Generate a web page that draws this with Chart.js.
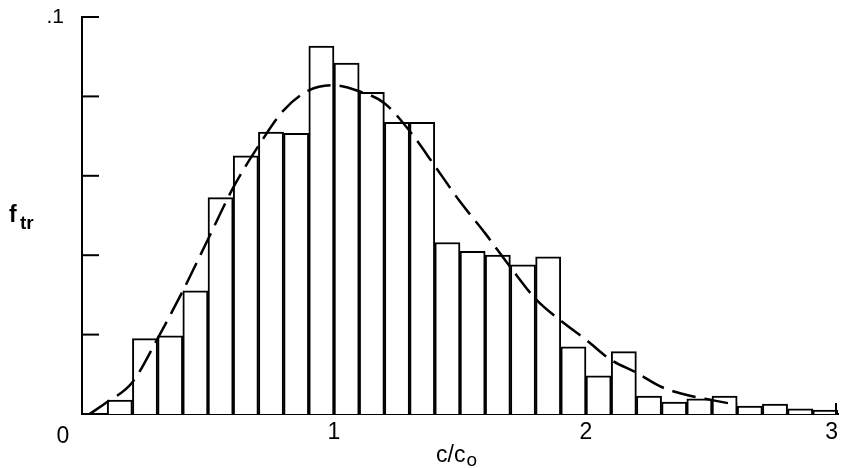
<!DOCTYPE html>
<html>
<head>
<meta charset="utf-8">
<script src="https://cdn.jsdelivr.net/npm/chart.js@4/dist/chart.umd.min.js"></script>
<style>
  html, body { margin: 0; padding: 0; background: #fff; }
  #wrap { width: 842px; height: 468px; }
</style>
</head>
<body>
<div id="wrap"><canvas id="chHist"></canvas></div>
<script>
// histogram bins (centre of each 0.1 wide bin) and frequencies
var binCentres = [0.05, 0.15, 0.25, 0.35, 0.45, 0.55, 0.65, 0.75, 0.85, 0.95,
                  1.05, 1.15, 1.25, 1.35, 1.45, 1.55, 1.65, 1.75, 1.85, 1.95,
                  2.05, 2.15, 2.25, 2.35, 2.45, 2.55, 2.65, 2.75, 2.85, 2.95];
var binFreq = [0, 0.0035, 0.019, 0.0197, 0.031, 0.0545, 0.065, 0.071, 0.0707, 0.0927,
               0.0884, 0.081, 0.0735, 0.0735, 0.0432, 0.041, 0.040, 0.0376, 0.0396, 0.0169,
               0.0096, 0.0157, 0.0045, 0.003, 0.0038, 0.0045, 0.002, 0.0025, 0.0013, 0.001];

// dashed fitted curve
var curveX = [0.03, 0.1, 0.2, 0.3, 0.4, 0.5, 0.6, 0.7, 0.8, 0.9, 1.0, 1.1, 1.2, 1.3,
              1.4, 1.5, 1.6, 1.7, 1.8, 1.9, 2.0, 2.1, 2.2, 2.3, 2.4, 2.5, 2.6];
var curveY = [0, 0.003, 0.008, 0.019, 0.031, 0.044, 0.057, 0.0675, 0.0765, 0.0815, 0.0828, 0.0813, 0.0783, 0.0713,
              0.0625, 0.0535, 0.0455, 0.037, 0.029, 0.0235, 0.0187, 0.0136, 0.0104, 0.0068, 0.0048, 0.0035, 0.0023];

var yTicks = [0, 0.02, 0.04, 0.06, 0.08, 0.1];
var xTicks = [0, 1, 2, 3];

var FONT = '"Liberation Sans", Arial, sans-serif';

var extras = {
  id: 'extras',
  afterDraw: function(chart) {
    var ctx = chart.ctx, xs = chart.scales.x, ys = chart.scales.y;
    var left = xs.getPixelForValue(0), bottom = ys.getPixelForValue(0);
    ctx.save();
    ctx.strokeStyle = '#000';
    ctx.lineWidth = 2;
    // inward ticks on the y axis
    yTicks.forEach(function(v) {
      if (v === 0) return;
      var y = ys.getPixelForValue(v);
      ctx.beginPath();
      ctx.moveTo(left, y);
      ctx.lineTo(left + 17, y);
      ctx.stroke();
    });
    // end tick at x = 3
    var xr = xs.getPixelForValue(3) - 2;
    ctx.beginPath();
    ctx.moveTo(xr, bottom);
    ctx.lineTo(xr, bottom - 11);
    ctx.stroke();
    // origin label, axis titles
    ctx.fillStyle = '#000';
    ctx.textBaseline = 'alphabetic';
    ctx.font = '23px ' + FONT;
    ctx.textAlign = 'center';
    ctx.fillText('0', left - 19, 443);
    ctx.textAlign = 'left';
    ctx.font = 'bold 23px ' + FONT;
    ctx.fillText('f', 9, 222);
    ctx.font = 'bold 19px ' + FONT;
    ctx.fillText('tr', 20, 229);
    ctx.font = '23px ' + FONT;
    ctx.fillText('c/c', 436, 462);
    var w = ctx.measureText('c/c').width;
    ctx.font = '19px ' + FONT;
    ctx.fillText('o', 436 + w + 1, 466);
    ctx.restore();
  }
};

new Chart(document.getElementById('chHist'), {
  type: 'bar',
  data: {
    datasets: [
      {
        type: 'line',
        order: 0,
        data: curveX.map(function(x, i) { return {x: x, y: curveY[i]}; }),
        borderColor: '#000',
        borderWidth: 2.5,
        borderDash: [24, 9],
        pointRadius: 0,
        fill: false,
        cubicInterpolationMode: 'monotone'
      },
      {
        type: 'bar',
        order: 1,
        data: binCentres.map(function(x, i) { return {x: x, y: binFreq[i]}; }),
        backgroundColor: '#fff',
        borderColor: '#000',
        borderWidth: 2,
        barPercentage: 1,
        categoryPercentage: 1
      }
    ]
  },
  options: {
    responsive: true,
    maintainAspectRatio: false,
    animation: false,
    layout: {padding: {top: 17, right: 4, left: 0, bottom: 0}},
    plugins: {legend: {display: false}, tooltip: {enabled: false}},
    scales: {
      x: {
        type: 'linear',
        min: 0, max: 3,
        offset: false,
        grid: {display: false, drawTicks: false},
        border: {display: true, color: '#000', width: 2},
        afterBuildTicks: function(s) { s.ticks = xTicks.map(function(v) { return {value: v}; }); },
        ticks: {
          color: '#000',
          font: {family: FONT, size: 23},
          padding: 5,
          align: 'inner',
          maxRotation: 0,
          callback: function(v) { return v === 0 ? '' : String(v); }
        },
        afterFit: function(s) { s.height = 54; s.paddingLeft = 0; s.paddingRight = 0; }
      },
      y: {
        min: 0, max: 0.1,
        grid: {display: false, drawTicks: false},
        border: {display: true, color: '#000', width: 2},
        afterBuildTicks: function(s) { s.ticks = yTicks.map(function(v) { return {value: v}; }); },
        ticks: {
          color: '#000',
          font: {family: FONT, size: 21},
          padding: 18,
          callback: function(v) { return Math.abs(v - 0.1) < 1e-9 ? '.1' : ''; }
        },
        afterFit: function(s) { s.width = 82; s.paddingTop = 0; s.paddingBottom = 0; }
      }
    }
  },
  plugins: [extras]
});
</script>
</body>
</html>
